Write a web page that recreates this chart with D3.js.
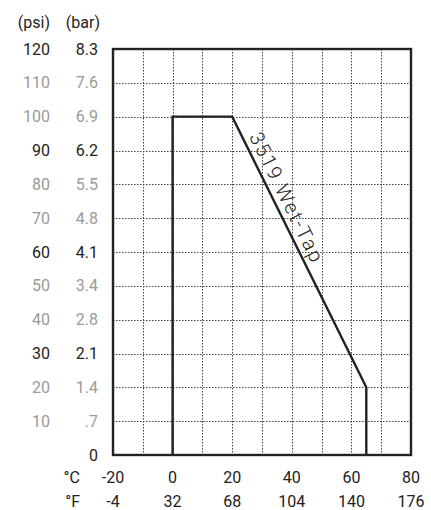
<!DOCTYPE html>
<html>
<head>
<meta charset="utf-8">
<script src="https://cdn.jsdelivr.net/npm/d3@7"></script>
<style>
  html, body { margin: 0; padding: 0; background: #fff; }
  svg { display: block; font-family: Roboto, "DejaVu Sans", sans-serif; }
</style>
</head>
<body>
<svg id="chart" width="431" height="510"></svg>
<script>
// ---- data ----
const celsiusTicks = [-20, 0, 20, 40, 60, 80];
const fahrenheitLabels = ["-4", "32", "68", "104", "140", "176"];
const psiTicks = [0, 10, 20, 30, 40, 50, 60, 70, 80, 90, 100, 110, 120];
const psiLabels = ["", "10", "20", "30", "40", "50", "60", "70", "80", "90", "100", "110", "120"];
const barLabels = ["0", ".7", "1.4", "2.1", "2.8", "3.4", "4.1", "4.8", "5.5", "6.2", "6.9", "7.6", "8.3"];
const emphasizedPsi = [0, 30, 60, 90, 120];
const gridC = [-10, 0, 10, 20, 30, 40, 50, 60, 70];
const curveC = [0, 0, 20, 65, 65];
const curvePsi = [0, 100, 100, 20, 0];
const curveLabel = "3519 Wet-Tap";

// ---- layout ----
const svg = d3.select("#chart");
const mLeft = 113, mRight = 411, mTop = 49, mBottom = 455;
const x = d3.scaleLinear().domain([-20, 80]).range([mLeft, mRight]);
const y = d3.scaleLinear().domain([0, 120]).range([mBottom, mTop]);
const dark = "#222", grey = "#9a9a9a";

// grid
const grid = svg.append("g");
grid.selectAll("line.v").data(gridC).join("line")
  .attr("x1", d => Math.round(x(d)) + 0.5).attr("x2", d => Math.round(x(d)) + 0.5)
  .attr("y1", mTop).attr("y2", mBottom)
  .attr("stroke", "#444").attr("stroke-width", 1).attr("stroke-dasharray", "1.5,1.5");
grid.selectAll("line.h").data(psiTicks.filter(d => d > 0 && d < 120)).join("line")
  .attr("y1", d => Math.round(y(d)) + 0.5).attr("y2", d => Math.round(y(d)) + 0.5)
  .attr("x1", mLeft).attr("x2", mRight)
  .attr("stroke", "#444").attr("stroke-width", 1).attr("stroke-dasharray", "1.5,1.5");

// frame
svg.append("rect")
  .attr("x", mLeft).attr("y", mTop).attr("width", mRight - mLeft).attr("height", mBottom - mTop)
  .attr("fill", "none").attr("stroke", dark).attr("stroke-width", 2.4);

// curve
const pts = curveC.map((c, i) => [c, curvePsi[i]]);
svg.append("path")
  .attr("d", d3.line().x(d => x(d[0])).y(d => y(d[1]))(pts))
  .attr("fill", "none").attr("stroke", dark).attr("stroke-width", 2.4)
  .attr("stroke-linejoin", "miter");

// curve label along sloped segment
const p1 = [x(curveC[2]), y(curvePsi[2])], p2 = [x(curveC[3]), y(curvePsi[3])];
const ang = Math.atan2(p2[1] - p1[1], p2[0] - p1[0]) * 180 / Math.PI;
svg.append("text")
  .attr("transform", `translate(${p1[0]},${p1[1]}) rotate(${ang})`)
  .attr("x", 25).attr("y", -6)
  .attr("textLength", 142).attr("lengthAdjust", "spacing")
  .attr("font-size", 20).attr("font-weight", 300).attr("fill", dark)
  .text(curveLabel);

// y labels
const yl = svg.append("g").attr("font-size", 16).attr("text-anchor", "end");
yl.selectAll("text.psi").data(psiTicks).join("text")
  .attr("x", 50).attr("y", d => y(d)).attr("dy", "0.35em")
  .attr("fill", d => emphasizedPsi.includes(d) ? dark : grey)
  .text((d, i) => psiLabels[i]);
yl.selectAll("text.bar").data(psiTicks).join("text")
  .attr("x", 98).attr("y", d => y(d)).attr("dy", "0.35em")
  .attr("fill", d => emphasizedPsi.includes(d) ? dark : grey)
  .text((d, i) => barLabels[i]);
yl.append("text").attr("x", 50).attr("y", 22).attr("dy", "0.35em").attr("fill", dark).text("(psi)");
yl.append("text").attr("x", 100).attr("y", 22).attr("dy", "0.35em").attr("fill", dark).text("(bar)");

// x labels
const xl = svg.append("g").attr("font-size", 16).attr("fill", dark);
xl.selectAll("text.c").data(celsiusTicks).join("text")
  .attr("x", d => x(d)).attr("y", 477).attr("dy", "0.35em").attr("text-anchor", "middle")
  .text(d => d);
xl.selectAll("text.f").data(celsiusTicks).join("text")
  .attr("x", d => x(d)).attr("y", 501).attr("dy", "0.35em").attr("text-anchor", "middle")
  .text((d, i) => fahrenheitLabels[i]);
xl.append("text").attr("x", 80).attr("y", 477).attr("dy", "0.35em").attr("text-anchor", "end").text("°C");
xl.append("text").attr("x", 80).attr("y", 501).attr("dy", "0.35em").attr("text-anchor", "end").text("°F");
</script>
</body>
</html>
